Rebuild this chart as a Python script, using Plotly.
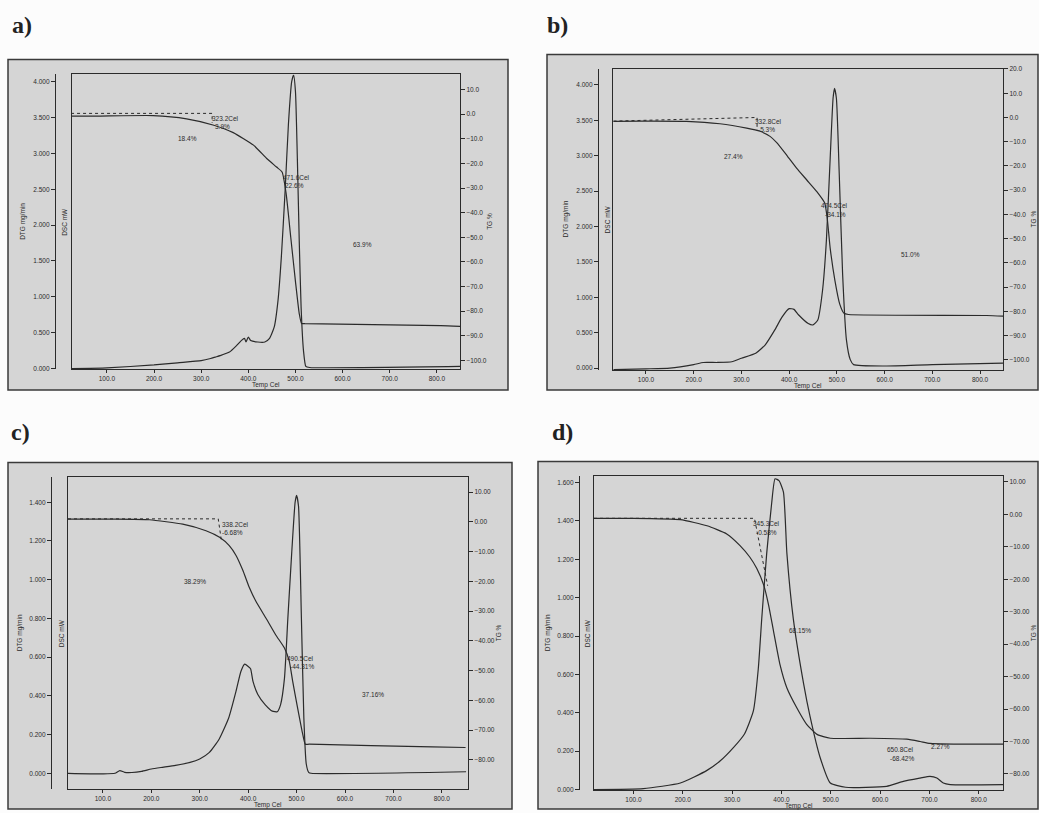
import plotly.graph_objects as go

W, H = 1039, 813

# ---------------- data ----------------
# Panel a
a_tg_T = [24, 77, 198, 269, 325, 368, 411, 439, 460, 471.6, 480, 490, 500, 508, 513, 520, 808, 850]
a_tg_V = [-0.8, -0.8, -0.6, -1.9, -4.4, -7.5, -12.6, -18.0, -21.5, -23.5, -32.0, -50.0, -68.0, -81.0, -85.0, -85.1, -85.9, -86.2]
a_dtg_T = [24, 100, 200, 250, 300, 320, 330, 340, 360, 375, 385, 392, 395, 400, 405, 420, 435, 445, 455,
           463, 470, 478, 485, 492, 496, 500, 504, 508, 512, 517, 522, 530, 850]
a_dtg_V = [0.0, 0.01, 0.05, 0.08, 0.11, 0.14, 0.16, 0.18, 0.23, 0.32, 0.39, 0.42, 0.37, 0.44, 0.39, 0.37, 0.37, 0.42, 0.58,
           0.95, 1.55, 2.47, 3.40, 4.00, 4.09, 3.86, 2.93, 1.78, 0.85, 0.25, 0.03, 0.015, 0.03]
a_onset_T = [24, 323.2, 323.2]
a_onset_V = [0.3, 0.3, -3.6]

# Panel b
b_tg_T = [32, 91, 185, 255, 311, 339, 360, 374, 395, 416, 437, 458, 474.5, 480, 486, 496, 506, 515, 524, 814, 849]
b_tg_V = [-1.6, -1.5, -1.6, -2.6, -4.4, -5.7, -7.8, -10.4, -15.6, -21.0, -25.8, -30.6, -35.3, -42.0, -54.0, -67.4, -77.0, -80.8, -81.3, -81.7, -82.0]
b_dtg_T = [32, 100, 150, 200, 220, 250, 280, 300, 330, 350, 370, 385, 400, 410, 420, 440, 450, 460, 470,
           478, 486, 492, 495, 499, 505, 512, 520, 528, 535, 600, 700, 850]
b_dtg_V = [-0.02, -0.01, 0.0, 0.05, 0.08, 0.08, 0.09, 0.14, 0.21, 0.33, 0.54, 0.72, 0.84, 0.83, 0.75, 0.63, 0.61, 0.68, 1.10,
           1.80, 2.97, 3.81, 3.95, 3.81, 2.73, 1.33, 0.40, 0.12, 0.05, 0.03, 0.05, 0.07]
b_onset_T = [32, 332.8, 332.8]
b_onset_V = [-1.5, 0.0, -5.3]

# Panel c
c_tg_T = [28, 121, 196, 265, 313, 341, 361, 375, 389, 402, 416, 437, 457, 475, 485, 492, 502, 512, 518, 526, 780, 849]
c_tg_V = [0.9, 0.9, 0.7, -0.8, -3.0, -5.2, -8.0, -11.3, -16.3, -21.9, -26.7, -32.4, -38.0, -42.4, -46.9, -53.6, -62.4, -70.8, -74.7, -74.7, -75.6, -75.8]
c_dtg_T = [28, 100, 125, 135, 145, 160, 180, 200, 220, 250, 280, 300, 320, 340, 360, 375, 385, 393, 400, 405, 410,
           420, 435, 450, 460, 467, 475, 482, 490, 497, 500, 504, 510, 515, 520, 525, 530, 850]
c_dtg_V = [0.0, -0.003, 0.0, 0.014, 0.005, 0.004, 0.01, 0.022, 0.03, 0.041, 0.056, 0.074, 0.108, 0.176, 0.287, 0.424, 0.526, 0.564, 0.552, 0.54, 0.475,
           0.407, 0.355, 0.321, 0.318, 0.355, 0.49, 0.80, 1.14, 1.40, 1.436, 1.38, 0.80, 0.287, 0.048, 0.005, 0.0, 0.008]
c_onset_T = [28, 338.2, 345]
c_onset_V = [1.0, 1.0, -6.5]

# Panel d
d_tg_T = [20, 93, 195, 249, 289, 316, 336, 350, 364, 374, 384, 397, 411, 431, 451, 472, 499, 580, 654, 681, 701, 749, 849]
d_tg_V = [-1.2, -1.2, -1.6, -3.5, -6.0, -9.6, -13.2, -16.7, -21.8, -28.0, -36.1, -46.3, -53.5, -59.6, -64.7, -67.8, -69.0, -69.0, -69.3, -70.0, -70.6, -70.8, -70.8]
d_dtg_T = [20, 120, 195, 249, 276, 303, 325, 343, 353, 360, 370, 380, 387, 395, 404, 411, 424, 445, 458, 478, 499,
           530, 613, 647, 681, 701, 715, 728, 742, 849]
d_dtg_V = [0.0, 0.005, 0.034, 0.10, 0.15, 0.22, 0.29, 0.41, 0.63, 0.89, 1.23, 1.49, 1.62, 1.61, 1.55, 1.23, 0.89, 0.55, 0.38, 0.17, 0.034,
           0.012, 0.017, 0.043, 0.06, 0.069, 0.06, 0.034, 0.026, 0.026]
d_onset_T = [20, 345.3, 372]
d_onset_V = [-1.2, -1.2, -22.0]

# axis settings per panel
x_ranges = [[26, 849], [31, 848], [28, 854], [20, 849]]
dtg_ranges = [[-0.01, 4.10], [-0.03, 4.23], [-0.082, 1.528], [-0.003, 1.632]]
tg_ranges = [[-103.6, 16.1], [-104.3, 20.2], [-89.8, 14.9], [-85.0, 11.7]]
dtg_ticks = [[0.5 * i for i in range(9)], [0.5 * i for i in range(9)],
             [0.2 * i for i in range(8)], [0.2 * i for i in range(9)]]
tg_ticks = [[10 - 10 * i for i in range(12)], [20 - 10 * i for i in range(13)],
            [10 - 10 * i for i in range(10)], [10 - 10 * i for i in range(10)]]
tg_fmt = ['.1f', '.1f', '.2f', '.2f']
x_ticks = [100, 200, 300, 400, 500, 600, 700, 800]

panel_letters = ['a)', 'b)', 'c)', 'd)']
panel_notes = [
    [('323.2Cel', 225, 116), ('3.9%', 222, 124), ('18.4%', 187, 137), ('471.6Cel', 296, 176), ('22.6%', 294, 184), ('63.9%', 362, 243)],
    [('332.8Cel', 768, 119), ('-5.3%', 766, 127), ('27.4%', 733, 155), ('474.5Cel', 834, 204), ('-34.1%', 835, 213), ('51.0%', 910, 253)],
    [('338.2Cel', 235, 525), ('-6.68%', 232, 533), ('38.29%', 195, 583), ('490.5Cel', 300, 660), ('-44.31%', 302, 668), ('37.16%', 373, 697)],
    [('345.3Cel', 766, 524), ('-0.58%', 766, 533), ('68.15%', 800, 632), ('650.8Cel', 900, 752), ('-68.42%', 902, 761), ('2.27%', 940, 749)],
]

tg_T = [a_tg_T, b_tg_T, c_tg_T, d_tg_T]
tg_V = [a_tg_V, b_tg_V, c_tg_V, d_tg_V]
dtg_T = [a_dtg_T, b_dtg_T, c_dtg_T, d_dtg_T]
dtg_V = [a_dtg_V, b_dtg_V, c_dtg_V, d_dtg_V]
on_T = [a_onset_T, b_onset_T, c_onset_T, d_onset_T]
on_V = [a_onset_V, b_onset_V, c_onset_V, d_onset_V]

# ---------------- layout geometry (pixels) ----------------
plot_box = [(72, 72, 460, 369), (613, 66, 1003, 370), (68, 478, 468, 792), (594, 477, 1003, 793)]
frame_box = [(8, 57, 508, 390), (547, 52, 1038, 390), (8, 463, 512, 812), (538, 462, 1038, 812)]
dtg_axis_x = [55, 598, 51, 579]
dtg_title_x = [23, 566, 20, 548]
dsc_title_x = [65, 607, 61, 587]
tg_title_x = [490, 1033, 498, 1033]
letter_pos = [(22, 22), (557, 22), (20, 432), (562, 432)]


def px(x):
    return x / W


def py(y):
    return 1 - y / H


INK = '#2b2b2b'
TF = dict(size=6.5, color=INK, family='Liberation Sans')
fig = go.Figure()
shapes = []
annotations = []
layout = {}


def note(text, x, y, font=TF, angle=0):
    return dict(text=text, x=px(x), y=py(y), xref='paper', yref='paper', showarrow=False,
                xanchor='center', yanchor='middle', textangle=angle, font=font)


for k in range(4):
    xname = 'x' if k == 0 else f'x{k + 1}'
    xkey = 'xaxis' if k == 0 else f'xaxis{k + 1}'
    y1i, y2i = 2 * k + 1, 2 * k + 2
    y1name = 'y' if y1i == 1 else f'y{y1i}'
    y1key = 'yaxis' if y1i == 1 else f'yaxis{y1i}'
    y2name, y2key = f'y{y2i}', f'yaxis{y2i}'

    x0, y0, x1, y1 = plot_box[k]
    xdom = [px(x0), px(x1)]
    ydom = [py(y1), py(y0)]

    layout[xkey] = dict(domain=xdom, range=x_ranges[k], anchor=y2name, showline=True, mirror=True,
                        linecolor=INK, linewidth=1.2, ticks='outside', ticklen=3, tickcolor=INK,
                        tickvals=x_ticks, tickformat='.1f', showgrid=False, zeroline=False,
                        tickfont=TF)
    layout[y1key] = dict(domain=ydom, range=dtg_ranges[k], anchor='free', position=px(dtg_axis_x[k]),
                         showline=True, linecolor=INK, linewidth=1.2, ticks='outside', ticklen=4,
                         tickcolor=INK, tickvals=dtg_ticks[k], tickformat='.3f', showgrid=False,
                         zeroline=False, tickfont=TF)
    layout[y2key] = dict(range=tg_ranges[k], overlaying=y1name, side='right', anchor=xname,
                         showline=True, mirror=True, linecolor=INK, linewidth=1.2, ticks='outside',
                         ticklen=4, tickcolor=INK, tickvals=tg_ticks[k], tickformat=tg_fmt[k],
                         showgrid=False, zeroline=False, tickfont=TF)

    fig.add_trace(go.Scatter(x=dtg_T[k], y=dtg_V[k], xaxis=xname, yaxis=y1name, mode='lines',
                             line=dict(color=INK, width=1.2, shape='spline', smoothing=0.5),
                             showlegend=False, hoverinfo='skip'))
    fig.add_trace(go.Scatter(x=tg_T[k], y=tg_V[k], xaxis=xname, yaxis=y2name, mode='lines',
                             line=dict(color=INK, width=1.2, shape='spline', smoothing=0.5),
                             showlegend=False, hoverinfo='skip'))
    fig.add_trace(go.Scatter(x=on_T[k], y=on_V[k], xaxis=xname, yaxis=y2name, mode='lines',
                             line=dict(color=INK, width=1, dash='dot'),
                             showlegend=False, hoverinfo='skip'))

    fx0, fy0, fx1, fy1 = frame_box[k]
    shapes.append(dict(type='rect', xref='paper', yref='paper', x0=px(fx0), y0=py(fy1),
                       x1=px(fx1), y1=py(fy0), fillcolor='#d5d5d5',
                       line=dict(color='#3a3a3a', width=1.5), layer='below'))

    midy = (y0 + y1) / 2
    annotations.append(note('DTG mg/min', dtg_title_x[k], midy, angle=-90))
    annotations.append(note('DSC mW', dsc_title_x[k], midy, angle=-90))
    annotations.append(note('TG %', tg_title_x[k], midy, angle=-90))
    annotations.append(note('Temp Cel', (x0 + x1) / 2, y1 + 16))
    lx, ly = letter_pos[k]
    annotations.append(note('<b>' + panel_letters[k] + '</b>', lx, ly,
                            font=dict(size=24, color='#222', family='Liberation Serif')))
    for txt, tx, ty in panel_notes[k]:
        annotations.append(note(txt, tx, ty))

fig.update_layout(width=W, height=H, margin=dict(l=0, r=0, t=0, b=0),
                  paper_bgcolor='#fcfcfc', plot_bgcolor='rgba(0,0,0,0)',
                  shapes=shapes, annotations=annotations, **layout)

fig.write_html('out.html', config={'displayModeBar': False},
               post_script="document.body.style.margin='0';document.body.style.overflow='hidden';")
